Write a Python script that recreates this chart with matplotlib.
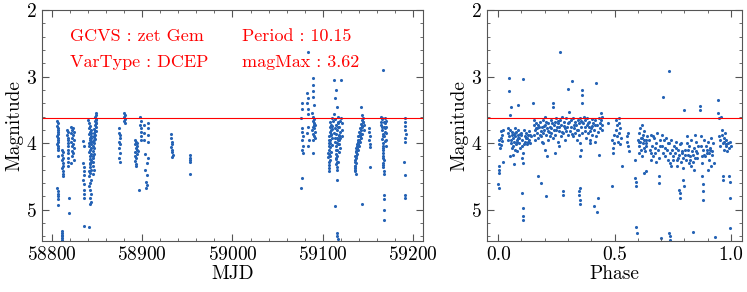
import numpy as np
import matplotlib
matplotlib.use('Agg')
import matplotlib.pyplot as plt
from matplotlib.ticker import MultipleLocator

plt.rcParams['font.family'] = 'serif'
plt.rcParams['font.serif'] = ['cmr10']
plt.rcParams['mathtext.fontset'] = 'cm'
plt.rcParams['axes.formatter.use_mathtext'] = True

# --- star info ---
gcvs_name = 'zet Gem'
var_type = 'DCEP'
period = 10.15
mag_max = 3.62

# --- light curve (MJD, magnitude) ---
lc_points = [
    (58806.0, 3.66), (58806.3, 3.70), (58806.1, 3.74), (58806.5, 3.77), (58806.2, 3.80), (58806.7, 3.83),
    (58806.4, 3.86), (58806.0, 3.89), (58806.6, 3.92), (58806.3, 3.95), (58806.8, 3.98), (58806.1, 4.01),
    (58806.5, 4.04), (58806.2, 4.07), (58806.7, 4.10), (58806.4, 4.20), (58806.0, 4.68), (58806.3, 4.72),
    (58806.5, 4.76), (58806.2, 4.80), (58806.6, 4.84), (58806.4, 4.93),
    (58811.5, 4.10), (58811.8, 4.14), (58811.6, 4.18), (58812.0, 4.22), (58811.7, 4.26), (58811.9, 4.30),
    (58812.1, 4.34), (58811.6, 4.38), (58812.0, 4.42), (58811.8, 4.46), (58811.9, 4.50), (58810.8, 5.32),
    (58811.2, 5.35), (58811.0, 5.38), (58811.5, 5.40), (58811.3, 5.43), (58811.7, 5.45),
    (58817.0, 3.80), (58817.5, 3.84), (58817.2, 3.88), (58818.0, 3.92), (58817.4, 3.96), (58817.8, 4.00),
    (58818.3, 4.05), (58817.6, 4.10), (58818.1, 4.15), (58817.3, 4.22), (58817.9, 4.28), (58818.2, 4.35),
    (58818.5, 4.82), (58818.8, 5.05),
    (58821.0, 3.76), (58822.5, 3.80), (58821.5, 3.85), (58823.0, 3.88), (58822.0, 3.92), (58824.0, 3.95),
    (58821.2, 3.98), (58823.5, 4.02), (58822.3, 4.05), (58824.5, 4.08), (58821.8, 4.12), (58823.2, 4.15),
    (58822.7, 4.20), (58824.2, 4.25), (58821.6, 4.30), (58823.8, 3.78), (58824.6, 3.83),
    (58834.5, 3.97), (58835.0, 4.05), (58834.8, 4.30), (58835.3, 4.36), (58835.1, 4.42), (58835.5, 4.48),
    (58834.9, 4.55), (58835.2, 4.62), (58835.4, 4.70), (58835.0, 4.77), (58835.3, 4.82), (58835.0, 5.25),
    (58840.5, 3.65), (58841.0, 3.70), (58842.0, 3.74), (58841.5, 3.78), (58843.0, 3.81), (58842.5, 3.84),
    (58841.2, 3.87), (58843.5, 3.90), (58842.2, 3.93), (58841.8, 3.96), (58843.2, 3.99), (58842.8, 4.02),
    (58841.4, 4.05), (58843.8, 4.08), (58842.0, 4.11), (58841.6, 4.14), (58843.4, 4.17), (58842.6, 4.20),
    (58841.9, 4.24), (58843.0, 4.28), (58842.3, 4.32), (58841.7, 4.36), (58843.6, 4.40), (58842.1, 4.45),
    (58841.3, 4.50), (58842.9, 4.55), (58842.4, 4.60), (58841.1, 4.65), (58842.7, 4.70), (58843.1, 4.76),
    (58842.2, 4.82), (58843.3, 4.88), (58842.5, 4.92), (58841.0, 5.26),
    (58841.2, 4.00), (58842.8, 3.92), (58843.5, 4.25), (58841.5, 4.42), (58842.1, 4.30), (58843.8, 3.85),
    (58848.5, 3.55), (58849.0, 3.58), (58848.0, 3.61), (58849.3, 3.64), (58847.5, 3.67), (58848.8, 3.70),
    (58847.2, 3.73), (58849.1, 3.76), (58846.8, 3.79), (58848.3, 3.82), (58846.5, 3.85), (58847.8, 3.88),
    (58846.2, 3.91), (58847.6, 3.94), (58845.8, 3.97), (58847.0, 4.00), (58845.5, 4.04), (58846.6, 4.08),
    (58845.9, 4.12), (58846.3, 4.17), (58845.6, 4.22), (58846.0, 4.28), (58845.7, 4.34), (58846.1, 4.40),
    (58845.8, 4.46), (58846.4, 3.95), (58847.4, 3.82), (58848.6, 3.65), (58845.9, 4.20), (58847.0, 3.90),
    (58849.2, 3.70),
    (58874.0, 3.78), (58874.5, 3.85), (58875.0, 3.92), (58874.2, 3.98), (58875.5, 4.02), (58874.8, 4.08),
    (58875.2, 4.15), (58874.4, 4.22), (58875.0, 4.28), (58875.8, 3.88),
    (58880.0, 3.55), (58880.5, 3.58), (58880.2, 3.61), (58880.8, 3.64), (58880.4, 3.67), (58880.6, 3.70),
    (58891.5, 3.95), (58893.0, 3.98), (58892.0, 4.02), (58894.5, 4.05), (58892.8, 4.08), (58893.8, 4.11),
    (58891.8, 4.14), (58894.0, 4.17), (58892.5, 4.20), (58893.4, 4.23), (58892.2, 4.27), (58893.6, 4.31),
    (58894.8, 4.00), (58895.5, 4.12), (58893.0, 4.35), (58896.0, 4.70),
    (58898.0, 3.60), (58898.3, 3.66), (58898.1, 3.72), (58898.5, 3.78), (58898.2, 3.84), (58898.6, 3.90),
    (58898.4, 3.96),
    (58902.0, 3.72), (58906.0, 3.70), (58906.3, 3.78), (58902.5, 3.85), (58906.1, 3.88), (58902.2, 3.95),
    (58906.5, 3.98), (58903.5, 4.16), (58906.2, 4.22), (58905.0, 4.30), (58903.0, 4.40), (58905.5, 4.48),
    (58904.5, 4.58), (58905.2, 4.63), (58904.0, 4.68),
    (58931.5, 3.87), (58932.0, 3.93), (58932.5, 3.98), (58933.0, 4.02), (58932.2, 4.06), (58933.5, 4.10),
    (58932.8, 4.14), (58934.0, 4.18), (58933.2, 4.21),
    (58953.0, 4.18), (58953.2, 4.22), (58953.0, 4.26), (58953.3, 4.29), (58953.1, 4.46),
    (59076.5, 3.40), (59077.0, 3.48), (59076.2, 3.62), (59077.5, 3.78), (59076.8, 3.84), (59078.0, 3.90),
    (59077.2, 3.96), (59078.3, 4.04), (59076.6, 4.10), (59077.8, 4.15), (59077.0, 4.52), (59076.4, 4.68),
    (59084.0, 2.63), (59083.0, 3.25), (59083.5, 3.32), (59082.8, 3.40), (59083.2, 3.48), (59083.8, 3.56),
    (59084.2, 3.75), (59083.0, 3.85), (59084.5, 3.95), (59083.6, 4.05),
    (59089.0, 3.02), (59089.5, 3.12), (59088.8, 3.22), (59089.2, 3.30), (59089.8, 3.42), (59088.5, 3.55),
    (59089.5, 3.60), (59090.5, 3.63), (59088.8, 3.66), (59090.0, 3.69), (59091.0, 3.72), (59089.3, 3.75),
    (59090.8, 3.78), (59088.6, 3.81), (59091.5, 3.84), (59089.7, 3.87), (59090.3, 3.90), (59091.2, 3.93),
    (59089.0, 3.96), (59090.6, 3.72), (59089.4, 4.15),
    (59108.5, 3.68), (59109.5, 3.72), (59108.0, 3.76), (59110.0, 3.79), (59107.5, 3.83), (59109.0, 3.86),
    (59107.2, 3.90), (59110.5, 3.93), (59108.3, 3.96), (59106.8, 4.00), (59109.8, 4.03), (59107.8, 4.06),
    (59106.5, 4.10), (59108.8, 4.13), (59107.0, 4.17), (59106.3, 4.21), (59107.6, 4.25), (59106.6, 4.29),
    (59107.3, 4.33), (59106.9, 4.38), (59107.1, 4.42), (59110.8, 3.62),
    (59106.0, 4.15), (59107.4, 3.95), (59108.6, 3.88), (59109.2, 3.80), (59110.2, 3.74), (59106.7, 4.05),
    (59107.9, 4.19), (59108.1, 4.00), (59111.5, 3.66), (59112.0, 3.85),
    (59113.0, 3.05), (59120.0, 3.05), (59114.5, 3.20), (59114.0, 3.32), (59115.5, 3.45), (59113.0, 3.56),
    (59116.5, 3.60), (59114.0, 3.64), (59117.0, 3.68), (59115.0, 3.72), (59118.0, 3.75), (59113.5, 3.78),
    (59116.0, 3.81), (59119.0, 3.84), (59114.5, 3.87), (59117.5, 3.90), (59115.5, 3.93), (59118.5, 3.96),
    (59113.8, 3.99), (59116.8, 4.02), (59114.8, 4.05), (59119.5, 4.08), (59115.8, 4.11), (59117.8, 4.14),
    (59114.2, 4.17), (59116.2, 4.20), (59115.2, 4.24), (59117.2, 4.28), (59115.0, 4.32), (59116.0, 4.36),
    (59115.6, 4.40), (59120.5, 3.62), (59121.0, 3.70), (59121.5, 3.80), (59120.8, 3.90), (59116.0, 4.55),
    (59114.0, 4.95), (59116.0, 5.35), (59116.3, 5.40), (59116.6, 5.44),
    (59114.3, 4.10), (59115.3, 4.00), (59116.4, 3.76), (59117.3, 3.70), (59118.2, 3.88), (59119.2, 3.92),
    (59116.9, 3.95), (59115.9, 4.28), (59114.6, 4.22), (59117.6, 4.02), (59113.2, 3.92), (59118.8, 3.66),
    (59142.0, 3.45), (59143.5, 3.58), (59144.5, 3.62), (59143.0, 3.65), (59145.0, 3.68), (59142.5, 3.71),
    (59144.0, 3.74), (59141.5, 3.77), (59145.5, 3.80), (59140.5, 3.83), (59143.8, 3.86), (59139.5, 3.89),
    (59142.2, 3.92), (59138.5, 3.95), (59141.0, 3.98), (59137.5, 4.01), (59140.0, 4.04), (59136.8, 4.07),
    (59139.0, 4.10), (59136.3, 4.13), (59138.0, 4.16), (59135.8, 4.19), (59137.0, 4.22), (59136.0, 4.26),
    (59136.6, 4.30), (59135.5, 4.34), (59136.2, 4.38), (59135.9, 4.42), (59136.4, 4.46), (59144.0, 4.92),
    (59135.2, 4.28), (59136.9, 4.20), (59137.8, 4.05), (59138.8, 3.98), (59139.8, 3.95), (59140.8, 3.90),
    (59141.8, 3.85), (59142.8, 3.80), (59143.3, 3.75), (59144.3, 3.68), (59145.3, 3.72), (59136.1, 4.35),
    (59135.7, 4.40), (59137.3, 4.12), (59138.3, 4.08), (59139.3, 4.02), (59141.3, 3.88), (59140.3, 3.96),
    (59151.0, 3.78), (59151.5, 3.84), (59152.0, 3.90), (59151.3, 3.96), (59152.5, 4.02), (59151.8, 4.06),
    (59152.2, 4.36),
    (59164.0, 3.60), (59166.0, 3.64), (59168.5, 3.62), (59165.0, 3.68), (59169.0, 3.70), (59164.5, 3.73),
    (59168.0, 3.76), (59165.5, 3.80), (59169.5, 3.83), (59166.5, 3.86), (59167.5, 3.90), (59166.0, 3.94),
    (59168.8, 3.97), (59166.8, 4.00), (59167.2, 4.05), (59166.3, 4.10), (59167.0, 4.15), (59166.6, 4.20),
    (59167.4, 4.25), (59166.9, 4.30), (59167.1, 4.36), (59167.3, 4.42), (59167.5, 4.47), (59167.0, 2.90),
    (59168.0, 4.78), (59168.3, 4.84), (59167.8, 5.00), (59167.6, 5.15), (59169.8, 3.66), (59170.2, 3.75),
    (59170.0, 3.85), (59169.6, 3.95), (59169.8, 4.05),
    (59165.8, 3.75), (59166.2, 3.90), (59166.7, 4.08), (59167.0, 4.22), (59167.2, 4.33), (59168.2, 3.68),
    (59165.2, 3.62), (59169.2, 3.78),
    (59191.0, 3.62), (59191.5, 3.68), (59190.8, 3.74), (59191.3, 3.80), (59191.8, 3.86), (59191.1, 3.92),
    (59191.6, 3.98), (59190.5, 4.28), (59190.7, 4.48), (59191.4, 4.78), (59191.2, 4.83),
]

# --- folded curve (phase, magnitude) ---
folded_points = [
    (0.002, 3.95), (0.004, 4.02), (0.006, 4.08), (0.003, 4.35), (0.005, 4.40), (0.004, 4.45), (0.001, 4.62),
    (0.003, 4.67), (0.012, 3.82), (0.015, 3.88), (0.010, 3.92), (0.018, 3.97), (0.014, 4.03), (0.020, 3.80),
    (0.022, 4.28),
    (0.045, 3.02), (0.048, 3.22), (0.055, 3.45), (0.052, 3.58), (0.040, 3.78), (0.043, 3.85), (0.047, 3.90),
    (0.050, 3.80), (0.053, 3.95), (0.056, 4.00), (0.058, 3.88), (0.060, 3.83), (0.062, 4.05), (0.064, 3.92),
    (0.066, 3.86), (0.068, 3.98), (0.070, 4.10), (0.072, 3.78), (0.074, 3.90), (0.076, 4.02), (0.078, 3.84),
    (0.080, 3.95), (0.082, 4.12), (0.084, 3.88), (0.086, 3.80), (0.088, 4.00), (0.090, 3.93), (0.092, 4.08),
    (0.094, 3.86), (0.063, 4.18), (0.067, 4.32), (0.049, 4.20), (0.085, 3.42),
    (0.042, 3.95), (0.058, 4.08), (0.071, 3.85), (0.079, 3.98), (0.087, 3.92), (0.097, 3.88),
    (0.100, 3.85), (0.102, 3.95), (0.104, 4.05), (0.106, 4.15), (0.103, 4.22), (0.105, 4.30), (0.107, 3.03),
    (0.104, 4.75), (0.106, 4.98), (0.105, 5.10), (0.107, 5.15), (0.110, 3.80), (0.113, 3.90), (0.116, 3.98),
    (0.119, 3.85), (0.122, 3.92), (0.125, 4.02), (0.128, 3.88), (0.131, 3.95), (0.134, 3.82), (0.137, 4.00),
    (0.140, 3.90), (0.111, 4.02), (0.118, 3.92), (0.127, 3.98), (0.135, 3.88),
    (0.150, 3.40), (0.152, 3.65), (0.155, 3.72), (0.158, 3.80), (0.153, 3.88), (0.160, 3.95), (0.162, 3.70),
    (0.165, 3.85), (0.168, 3.78), (0.170, 4.50), (0.173, 3.92), (0.176, 3.75), (0.179, 3.68), (0.182, 3.82),
    (0.185, 3.90), (0.188, 3.75), (0.191, 3.85), (0.194, 3.65), (0.197, 3.80), (0.200, 3.72), (0.203, 3.60),
    (0.206, 3.88), (0.209, 3.78), (0.212, 3.95), (0.215, 3.70), (0.218, 3.84), (0.186, 4.60), (0.200, 4.10),
    (0.205, 4.80), (0.192, 4.00), (0.210, 4.20), (0.190, 3.98),
    (0.163, 3.78), (0.172, 3.72), (0.181, 3.88), (0.196, 3.74), (0.207, 3.68), (0.214, 3.82),
    (0.222, 3.75), (0.225, 3.65), (0.228, 3.85), (0.231, 3.70), (0.234, 3.45), (0.237, 3.92), (0.240, 3.80),
    (0.243, 3.68), (0.246, 3.88), (0.249, 3.62), (0.252, 3.75), (0.255, 3.98), (0.258, 3.70), (0.261, 3.82),
    (0.264, 3.65), (0.266, 2.63), (0.268, 3.90), (0.271, 3.72), (0.274, 3.60), (0.277, 4.78), (0.277, 4.72),
    (0.280, 3.85), (0.283, 3.68), (0.286, 3.78), (0.289, 3.95), (0.292, 3.62), (0.295, 3.75), (0.298, 3.88),
    (0.245, 4.15), (0.260, 4.05), (0.235, 3.40),
    (0.221, 3.90), (0.229, 3.78), (0.239, 3.72), (0.247, 3.80), (0.256, 3.66), (0.263, 3.76), (0.272, 3.84),
    (0.284, 3.74), (0.293, 3.82),
    (0.300, 3.18), (0.302, 3.70), (0.305, 3.53), (0.308, 3.82), (0.311, 3.65), (0.314, 3.75), (0.317, 3.06),
    (0.320, 3.90), (0.323, 3.62), (0.326, 3.78), (0.329, 3.68), (0.332, 3.85), (0.335, 3.72), (0.338, 3.95),
    (0.341, 3.65), (0.344, 3.80), (0.347, 3.88), (0.350, 3.62), (0.352, 4.00), (0.354, 4.10), (0.350, 4.20),
    (0.348, 4.78), (0.350, 4.85), (0.352, 4.92), (0.349, 4.72), (0.351, 4.68), (0.356, 3.75), (0.358, 3.85),
    (0.360, 3.20), (0.361, 3.28), (0.362, 3.40), (0.360, 3.68),
    (0.306, 3.68), (0.316, 3.86), (0.327, 3.72), (0.337, 3.80), (0.346, 3.70), (0.357, 3.66),
    (0.365, 3.70), (0.368, 3.60), (0.371, 3.82), (0.374, 3.65), (0.377, 3.92), (0.380, 3.72), (0.383, 3.62),
    (0.386, 3.85), (0.389, 3.75), (0.392, 3.68), (0.395, 3.95), (0.398, 3.78), (0.401, 3.64), (0.404, 3.88),
    (0.407, 3.70), (0.410, 3.80), (0.413, 4.95), (0.416, 3.65), (0.419, 3.10), (0.422, 3.90), (0.425, 3.72),
    (0.428, 4.82), (0.425, 5.03), (0.431, 4.18), (0.434, 3.62), (0.437, 3.78), (0.440, 3.55), (0.442, 3.65),
    (0.444, 3.72), (0.446, 3.60), (0.448, 3.80), (0.415, 3.98), (0.395, 4.00),
    (0.372, 3.76), (0.384, 3.70), (0.393, 3.82), (0.405, 3.74), (0.418, 3.72), (0.428, 3.84), (0.439, 3.70),
    (0.470, 3.70), (0.488, 4.65), (0.490, 3.95), (0.492, 4.08), (0.494, 4.15), (0.496, 3.88), (0.498, 4.00),
    (0.505, 3.80), (0.508, 3.65), (0.510, 3.90), (0.512, 3.72), (0.515, 3.98), (0.518, 3.85), (0.520, 3.70),
    (0.522, 4.02), (0.525, 3.78), (0.528, 3.92), (0.530, 4.35), (0.520, 3.62), (0.552, 3.90), (0.555, 3.98),
    (0.558, 4.05), (0.560, 4.12), (0.556, 3.85),
    (0.588, 4.25), (0.590, 4.52), (0.591, 4.58), (0.592, 4.65), (0.593, 5.26), (0.596, 5.35),
    (0.600, 3.95), (0.603, 3.85), (0.606, 4.05), (0.609, 3.78), (0.612, 3.92), (0.615, 4.10), (0.618, 3.72),
    (0.621, 3.88), (0.624, 4.00), (0.627, 3.82), (0.630, 4.12), (0.633, 3.95), (0.636, 4.05), (0.639, 3.90),
    (0.605, 4.15), (0.620, 4.20), (0.628, 4.45), (0.634, 4.42), (0.610, 3.98), (0.625, 4.08),
    (0.604, 3.98), (0.616, 3.92), (0.626, 3.96), (0.637, 4.00),
    (0.648, 3.95), (0.652, 4.10), (0.656, 3.88), (0.660, 4.05), (0.664, 4.20), (0.668, 3.92), (0.672, 4.15),
    (0.676, 4.00), (0.680, 4.28), (0.684, 3.85), (0.688, 4.10), (0.692, 4.22), (0.696, 3.95), (0.690, 4.50),
    (0.692, 4.60), (0.665, 3.90), (0.655, 4.25), (0.658, 4.15), (0.674, 4.08), (0.694, 4.05),
    (0.702, 3.88), (0.706, 4.05), (0.710, 4.15), (0.708, 3.30), (0.700, 5.43), (0.714, 3.95), (0.718, 4.20),
    (0.722, 3.92), (0.726, 4.10), (0.730, 4.25), (0.734, 2.92), (0.735, 4.00), (0.737, 4.15), (0.739, 4.30),
    (0.741, 4.35), (0.736, 5.35), (0.737, 5.40), (0.738, 5.45), (0.744, 3.95), (0.748, 4.10),
    (0.716, 4.08), (0.728, 4.00),
    (0.752, 4.20), (0.756, 4.05), (0.760, 4.15), (0.764, 3.98), (0.768, 4.25), (0.772, 4.10), (0.776, 4.18),
    (0.780, 4.02), (0.784, 4.28), (0.788, 4.12), (0.778, 4.70), (0.780, 4.75), (0.782, 4.82), (0.792, 4.22),
    (0.794, 4.38), (0.796, 4.55), (0.797, 4.65), (0.798, 3.50), (0.770, 4.35), (0.786, 4.00),
    (0.750, 4.25), (0.762, 4.08), (0.774, 4.22), (0.790, 4.15),
    (0.802, 4.10), (0.806, 4.25), (0.810, 4.00), (0.814, 4.18), (0.818, 4.30), (0.822, 4.05), (0.826, 4.20),
    (0.830, 3.95), (0.834, 4.12), (0.835, 5.33), (0.838, 4.28), (0.842, 4.08), (0.846, 4.22), (0.850, 3.98),
    (0.854, 4.15), (0.858, 4.05), (0.812, 3.90), (0.828, 4.35), (0.845, 3.88), (0.840, 4.40),
    (0.804, 4.18), (0.816, 4.10), (0.824, 4.25), (0.836, 4.18), (0.848, 4.12), (0.856, 4.22),
    (0.866, 3.44), (0.868, 3.50), (0.870, 3.90), (0.872, 4.05), (0.874, 4.20), (0.876, 4.30), (0.877, 4.50),
    (0.878, 4.62), (0.879, 4.72), (0.880, 4.85), (0.882, 4.10), (0.886, 3.95), (0.890, 4.20), (0.894, 4.05),
    (0.898, 4.15), (0.902, 3.98), (0.906, 4.25), (0.910, 4.10), (0.914, 3.92), (0.918, 4.18), (0.922, 4.00),
    (0.926, 4.30), (0.900, 4.40), (0.916, 4.35), (0.930, 5.41), (0.912, 4.08),
    (0.884, 4.18), (0.896, 4.10), (0.908, 4.15), (0.920, 4.12),
    (0.945, 3.35), (0.946, 3.55), (0.948, 3.62), (0.950, 3.90), (0.952, 4.05), (0.954, 3.95), (0.958, 3.60),
    (0.960, 3.80), (0.963, 3.88), (0.966, 4.00), (0.969, 3.92), (0.972, 4.10), (0.975, 3.85), (0.978, 4.05),
    (0.981, 3.95), (0.984, 4.12), (0.987, 4.00), (0.990, 4.08), (0.965, 4.50), (0.966, 4.55), (0.993, 4.50),
    (0.994, 4.58), (0.995, 4.82), (0.996, 5.27), (0.998, 3.98), (1.000, 4.05), (0.970, 3.98), (0.980, 4.02),
]

mjd, mag_lc = np.array(lc_points).T
phase, mag_ph = np.array(folded_points).T

pt_color = '#2563b5'
frame_color = '#555555'

fig = plt.figure(figsize=(7.47, 2.92), dpi=100)
ax1 = fig.add_axes([0.0562, 0.1747, 0.510, 0.791])
ax2 = fig.add_axes([0.652, 0.1747, 0.3414, 0.791])

ax1.scatter(mjd, mag_lc, s=5, color=pt_color, linewidths=0)
ax2.scatter(phase, mag_ph, s=5, color=pt_color, linewidths=0)

for ax in (ax1, ax2):
    ax.axhline(mag_max, color='red', lw=0.8)
    ax.set_ylim(5.47, 2.0)
    ax.set_ylabel('Magnitude', fontsize=14)
    ax.yaxis.set_major_locator(MultipleLocator(1))
    ax.yaxis.set_minor_locator(MultipleLocator(0.2))
    ax.tick_params(which='both', direction='in', top=True, right=True,
                   labelsize=14, color=frame_color)
    ax.tick_params(which='major', length=5)
    ax.tick_params(which='minor', length=2.5)
    for sp in ax.spines.values():
        sp.set_color(frame_color)
        sp.set_linewidth(0.8)

ax1.set_xlim(58789, 59211)
ax1.xaxis.set_major_locator(MultipleLocator(100))
ax1.xaxis.set_minor_locator(MultipleLocator(20))
ax1.set_xlabel('MJD', fontsize=14, labelpad=1)
ax1.yaxis.labelpad = 2

ax2.set_xlim(-0.048, 1.048)
ax2.xaxis.set_major_locator(MultipleLocator(0.5))
ax2.xaxis.set_minor_locator(MultipleLocator(0.1))
ax2.xaxis.set_major_formatter(plt.FormatStrFormatter('%.1f'))
ax2.set_xlabel('Phase', fontsize=14, labelpad=1)
ax2.yaxis.labelpad = 2

# --- 情報テキスト ---
txt = dict(color='red', fontsize=13, transform=ax1.transAxes, va='baseline')
ax1.text(0.0735, 0.867, f'GCVS : {gcvs_name}', **txt)
ax1.text(0.525, 0.867, f'Period : {period:.2f}', **txt)
ax1.text(0.0735, 0.755, f'VarType : {var_type}', **txt)
ax1.text(0.525, 0.755, f'magMax : {mag_max:.2f}', **txt)

fig.savefig('out.png', dpi=100)
